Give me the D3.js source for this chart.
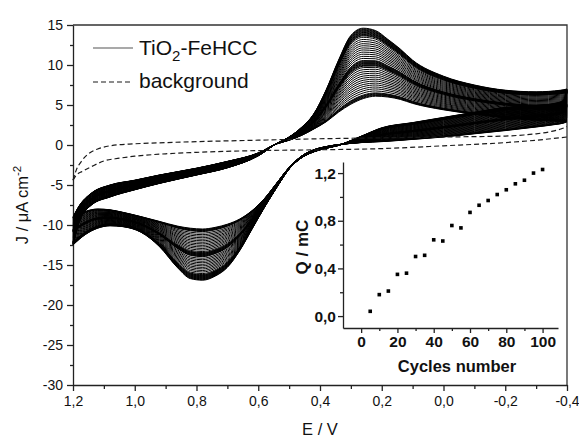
<!DOCTYPE html>
<html>
<head>
<meta charset="utf-8">
<script src="https://cdn.jsdelivr.net/npm/d3@7"></script>
<style>
  html, body { margin: 0; padding: 0; background: #ffffff; }
  svg { display: block; font-family: "Liberation Sans", Arial, sans-serif; }
</style>
</head>
<body>
<svg id="chart" width="579" height="439"></svg>
<script>
// ---- Cyclic voltammograms of the TiO2-FeHCC electrode (J in µA cm-2 vs E in V) ----

// Anodic (upper) branch: potential grid and current of the first and last recorded scan
const anodicE     = [1.20, 1.18, 1.14, 1.08, 1.00, 0.92, 0.80, 0.70, 0.60, 0.54, 0.50, 0.46, 0.42, 0.38, 0.34, 0.30, 0.26, 0.22, 0.18, 0.14, 0.10, 0.00, -0.10, -0.20, -0.30, -0.38, -0.40];
const anodicFirst = [-9.0, -7.6, -6.0, -5.0, -4.4, -3.75, -2.9, -2.05, -1.0, 0.15, 0.6, 1.2, 2.0, 2.9, 4.1, 5.1, 5.8, 6.1, 6.0, 5.7, 5.2, 4.4, 3.85, 3.4, 3.1, 2.95, 2.9];
const anodicLast  = [-12.5, -9.6, -7.5, -6.5, -5.6, -4.8, -3.75, -2.85, -1.35, 0.2, 1.0, 2.2, 3.9, 6.9, 10.6, 13.7, 14.6, 14.3, 13.2, 12.0, 10.6, 8.6, 7.5, 6.85, 6.65, 6.85, 7.0];

// Cathodic (lower) branch
const cathodicE     = [-0.40, -0.39, -0.36, -0.30, -0.20, -0.10, 0.00, 0.10, 0.20, 0.26, 0.30, 0.34, 0.38, 0.42, 0.46, 0.50, 0.54, 0.58, 0.62, 0.66, 0.70, 0.74, 0.78, 0.82, 0.86, 0.92, 0.98, 1.04, 1.08, 1.12, 1.16, 1.20];
const cathodicFirst = [2.9, 2.75, 2.55, 2.25, 1.8, 1.4, 1.0, 0.7, 0.42, 0.32, 0.2, 0.05, -0.2, -0.6, -1.4, -2.8, -4.75, -6.7, -8.2, -9.25, -9.9, -10.3, -10.5, -10.4, -10.15, -9.55, -8.95, -8.4, -8.1, -8.0, -8.3, -9.0];
const cathodicLast  = [7.0, 5.6, 5.2, 4.95, 4.7, 4.1, 3.45, 2.8, 2.15, 1.2, 0.55, -0.05, -0.4, -0.85, -1.6, -3.0, -5.3, -7.8, -10.5, -13.2, -15.3, -16.4, -16.9, -16.7, -15.4, -12.7, -10.9, -10.2, -10.1, -10.4, -11.2, -12.5];

// Anodic peak current of every drawn scan (µA cm-2)
const anodicPeakJ = [6.10, 6.19, 6.27, 6.36, 6.44, 6.53, 6.78, 7.04, 7.29, 7.55, 7.80, 8.06, 8.31, 8.57, 8.82, 9.08, 9.33, 9.59, 9.84,
  10.01, 10.10, 10.18, 10.27, 10.35, 10.44, 10.52, 10.61, 10.69, 10.95, 11.20, 11.46, 11.71, 11.97, 12.22, 12.48, 12.73, 12.99,
  13.24, 13.50, 13.67, 13.75, 13.84, 13.92, 14.01, 14.09, 14.18, 14.26, 14.35, 14.43, 14.52, 14.60];

// Background electrode (dashed)
const bgAnodicE   = [1.20, 1.19, 1.17, 1.15, 1.12, 1.08, 1.00, 0.90, 0.80, 0.60, 0.40, 0.20, 0.00, -0.20, -0.26, -0.30, -0.35, -0.38, -0.40];
const bgAnodicJ   = [-4.4, -3.2, -1.9, -1.1, -0.5, -0.1, 0.15, 0.3, 0.42, 0.6, 0.78, 0.9, 1.0, 1.12, 1.25, 1.4, 1.7, 2.0, 2.3];
const bgCathodicE = [1.20, 1.19, 1.17, 1.14, 1.10, 1.05, 1.00, 0.90, 0.80, 0.60, 0.40, 0.20, 0.00, -0.20, -0.30, -0.40];
const bgCathodicJ = [-4.4, -3.8, -3.3, -2.7, -2.0, -1.65, -1.4, -1.1, -0.92, -0.7, -0.6, -0.45, -0.1, 0.3, 0.6, 1.0];

// Axis ticks
const eMajorTicks = [1.2, 1.0, 0.8, 0.6, 0.4, 0.2, 0.0, -0.2, -0.4];
const eMinorTicks = [1.1, 0.9, 0.7, 0.5, 0.3, 0.1, -0.1, -0.3];
const jMajorTicks = [15, 10, 5, 0, -5, -10, -15, -20, -25, -30];
const jMinorTicks = [12.5, 7.5, 2.5, -2.5, -7.5, -12.5, -17.5, -22.5, -27.5];

// Inset: deposited charge vs. cycle number
const cycleNumbers = [5, 10, 15, 20, 25, 30, 35, 40, 45, 50, 55, 60, 65, 70, 75, 80, 85, 90, 95, 100];
const chargeMC     = [0.04, 0.18, 0.21, 0.35, 0.36, 0.50, 0.51, 0.64, 0.63, 0.76, 0.74, 0.87, 0.93, 0.97, 1.02, 1.06, 1.11, 1.14, 1.20, 1.23];
const cycleMajorTicks = [0, 20, 40, 60, 80, 100];
const cycleMinorTicks = [10, 30, 50, 70, 90];
const chargeMajorTicks = [0.0, 0.4, 0.8, 1.2];
const chargeMinorTicks = [0.2, 0.6, 1.0];

// ---------------------------------------------------------------------
const svg = d3.select("#chart");
const comma = v => v.toFixed(1).replace(".", ",");

const plot = { left: 73, right: 567, top: 25, bottom: 385 };
const x = d3.scaleLinear().domain([1.2, -0.4]).range([plot.left, plot.right]);
const y = d3.scaleLinear().domain([-30, 15]).range([plot.bottom, plot.top]);

const axisColor = "#222";
const bgDash = "5,3";

// Frame (top and right edges)
svg.append("path")
  .attr("d", `M${plot.left},${plot.top}H${plot.right}V${plot.bottom}`)
  .attr("fill", "none").attr("stroke", "#333").attr("stroke-width", 1.3);

// Left axis
const gy = svg.append("g").attr("transform", `translate(${plot.left},0)`)
  .call(d3.axisLeft(y).tickValues(jMajorTicks).tickFormat(d => String(d)).tickSize(6).tickSizeOuter(0));
svg.append("g").attr("transform", `translate(${plot.left},0)`)
  .call(d3.axisLeft(y).tickValues(jMinorTicks).tickFormat("").tickSize(3).tickSizeOuter(0))
  .select(".domain").remove();

// Bottom axis
const gx = svg.append("g").attr("transform", `translate(0,${plot.bottom})`)
  .call(d3.axisBottom(x).tickValues(eMajorTicks).tickFormat(comma).tickSize(6).tickSizeOuter(0));
svg.append("g").attr("transform", `translate(0,${plot.bottom})`)
  .call(d3.axisBottom(x).tickValues(eMinorTicks).tickFormat("").tickSize(4).tickSizeOuter(0))
  .select(".domain").remove();

svg.selectAll(".tick line, .domain").attr("stroke", axisColor).attr("stroke-width", 1.3);
gy.selectAll(".tick text").attr("font-size", 14).attr("fill", "#111").attr("x", -10)
  .attr("font-family", "Liberation Sans, Arial, sans-serif");
gx.selectAll(".tick text").attr("font-size", 14).attr("fill", "#111").attr("y", 11)
  .attr("font-family", "Liberation Sans, Arial, sans-serif");

// Axis titles
svg.append("text").attr("x", (plot.left + plot.right) / 2).attr("y", 435)
  .attr("text-anchor", "middle").attr("font-size", 16.5).attr("fill", "#111").text("E / V");

const yTitle = svg.append("text")
  .attr("transform", `translate(28,${(plot.top + plot.bottom) / 2}) rotate(-90)`)
  .attr("text-anchor", "middle").attr("font-size", 16.5).attr("fill", "#111");
yTitle.append("tspan").text("J / \u03bcA cm");
yTitle.append("tspan").attr("font-size", 11.5).attr("dy", -7).text("-2");

// ---- Voltammograms ----
const line = d3.line().x(d => x(d[0])).y(d => y(d[1])).curve(d3.curveMonotoneX);
const firstPeak = d3.max(anodicFirst);
const lastPeak = d3.max(anodicLast);

// Each scan sits between the first and last recorded scans according to its anodic peak current
const cvGroup = svg.append("g").attr("fill", "none").attr("stroke", "#000").attr("stroke-width", 1);
anodicPeakJ.forEach(peak => {
  const w = (peak - firstPeak) / (lastPeak - firstPeak);
  const up = anodicE.map((e, i) => [e, anodicFirst[i] + w * (anodicLast[i] - anodicFirst[i])]);
  const down = cathodicE.map((e, i) => [e, cathodicFirst[i] + w * (cathodicLast[i] - cathodicFirst[i])]).reverse();
  cvGroup.append("path").attr("d", line(up));
  cvGroup.append("path").attr("d", line(down));
});

// Background scans
const bgGroup = svg.append("g").attr("fill", "none").attr("stroke", "#1a1a1a")
  .attr("stroke-width", 1.2).attr("stroke-dasharray", bgDash);
bgGroup.append("path").attr("d", line(bgAnodicE.map((e, i) => [e, bgAnodicJ[i]])));
bgGroup.append("path").attr("d", line(bgCathodicE.map((e, i) => [e, bgCathodicJ[i]])));

// ---- Legend ----
const legend = svg.append("g");
legend.append("line").attr("x1", 93).attr("x2", 133).attr("y1", 48).attr("y2", 48)
  .attr("stroke", "#555").attr("stroke-width", 1.2);
const l1 = legend.append("text").attr("x", 139).attr("y", 55).attr("font-size", 21).attr("fill", "#111");
l1.append("tspan").text("TiO");
l1.append("tspan").attr("font-size", 15).attr("dy", 6).text("2");
l1.append("tspan").attr("dy", -6).text("-FeHCC");
legend.append("line").attr("x1", 93).attr("x2", 133).attr("y1", 82).attr("y2", 82)
  .attr("stroke", "#1a1a1a").attr("stroke-width", 1.2).attr("stroke-dasharray", bgDash);
legend.append("text").attr("x", 139).attr("y", 88).attr("font-size", 21).attr("fill", "#111").text("background");

// ---- Inset ----
const inset = { left: 343, right: 558, top: 162, bottom: 328 };
const xi = d3.scaleLinear().domain([-10, 108.5]).range([inset.left, inset.right]);
const yi = d3.scaleLinear().domain([-0.1, 1.293]).range([inset.bottom, inset.top]);

const giy = svg.append("g").attr("transform", `translate(${inset.left},0)`)
  .call(d3.axisLeft(yi).tickValues(chargeMajorTicks).tickFormat(comma).tickSize(5).tickSizeOuter(0));
svg.append("g").attr("transform", `translate(${inset.left},0)`)
  .call(d3.axisLeft(yi).tickValues(chargeMinorTicks).tickFormat("").tickSize(3).tickSizeOuter(0))
  .select(".domain").remove();
const gix = svg.append("g").attr("transform", `translate(0,${inset.bottom})`)
  .call(d3.axisBottom(xi).tickValues(cycleMajorTicks).tickFormat(d => String(d)).tickSize(5).tickSizeOuter(0));
svg.append("g").attr("transform", `translate(0,${inset.bottom})`)
  .call(d3.axisBottom(xi).tickValues(cycleMinorTicks).tickFormat("").tickSize(3).tickSizeOuter(0))
  .select(".domain").remove();

svg.selectAll(".tick line, .domain").attr("stroke", axisColor).attr("stroke-width", 1.3);
[giy, gix].forEach(g => g.selectAll(".tick text")
  .attr("font-size", 15.5).attr("font-weight", "bold").attr("fill", "#111")
  .attr("font-family", "Liberation Sans, Arial, sans-serif"));
giy.selectAll(".tick text").attr("x", -7);
gix.selectAll(".tick text").attr("y", 8);

svg.append("text").attr("x", 457).attr("y", 372).attr("text-anchor", "middle")
  .attr("font-size", 16.5).attr("font-weight", "bold").attr("fill", "#111").text("Cycles number");
svg.append("text").attr("transform", `translate(308,${(inset.top + inset.bottom) / 2 + 2}) rotate(-90)`)
  .attr("text-anchor", "middle").attr("font-size", 17).attr("font-weight", "bold").attr("fill", "#111")
  .text("Q / mC");

svg.append("g").selectAll("rect").data(cycleNumbers).join("rect")
  .attr("x", (d) => xi(d) - 1.8)
  .attr("y", (d, i) => yi(chargeMC[i]) - 1.8)
  .attr("width", 3.6).attr("height", 3.6).attr("fill", "#000");
</script>
</body>
</html>
